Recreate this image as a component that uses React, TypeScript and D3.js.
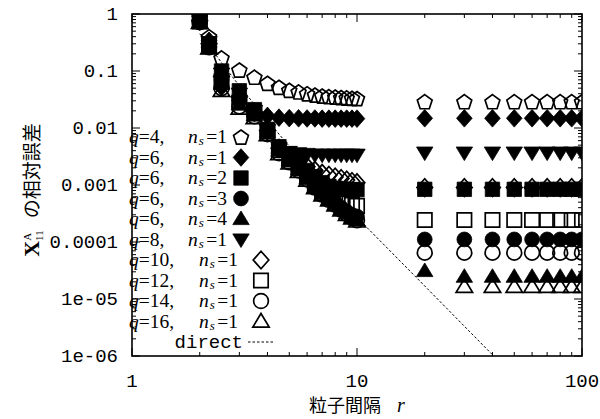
import React from 'react';
import * as d3 from 'd3';

// distances r
const R_VALUES = [2, 2.2, 2.5, 3, 3.5, 4, 4.5, 5, 5.5, 6, 6.5, 7, 7.5, 8, 8.5, 9, 9.5, 10, 20, 30, 40, 50, 60, 70, 80, 90, 100];

const Q4_NS1 = [0.85, 0.4, 0.17, 0.104, 0.078, 0.061, 0.052, 0.046, 0.043, 0.040, 0.038, 0.0365, 0.0355, 0.035, 0.0342, 0.0337, 0.0333, 0.033, 0.029, 0.029, 0.029, 0.029, 0.029, 0.029, 0.029, 0.029, 0.029];
const Q6_NS1 = [0.8, 0.34, 0.052, 0.031, 0.019, 0.0163, 0.0152, 0.0149, 0.0148, 0.0147, 0.0147, 0.0146, 0.0146, 0.0146, 0.0146, 0.0146, 0.0146, 0.0146, 0.0148, 0.0148, 0.0148, 0.0148, 0.0148, 0.0148, 0.0148, 0.0148, 0.0148];
const Q6_NS2 = [0.75, 0.3, 0.1, 0.045, 0.021, 0.0095, 0.0047, 0.0035, 0.0025, 0.0018, 0.0014, 0.0011, 0.00095, 0.00088, 0.00085, 0.00084, 0.00083, 0.00083, 0.00084, 0.00084, 0.00084, 0.00084, 0.00084, 0.00084, 0.00084, 0.00084, 0.00084];
const Q6_NS3 = [0.72, 0.27, 0.07, 0.03, 0.018, 0.0088, 0.0042, 0.0029, 0.002, 0.0014, 0.00098, 0.00075, 0.0006, 0.00049, 0.0004, 0.00034, 0.0003, 0.00028, 0.000111, 0.000111, 0.000111, 0.000111, 0.000111, 0.000111, 0.000111, 0.000111, 0.000111];
const Q6_NS4 = [0.7, 0.25, 0.06, 0.026, 0.017, 0.0085, 0.004, 0.0027, 0.0019, 0.0013, 0.00092, 0.0007, 0.00056, 0.00046, 0.00038, 0.00032, 0.00027, 0.00024, 3.1e-5, 2.46e-5, 2.46e-5, 2.46e-5, 2.46e-5, 2.46e-5, 2.46e-5, 2.46e-5, 2.46e-5];
const Q8_NS1 = [0.78, 0.32, 0.09, 0.04, 0.02, 0.0092, 0.0045, 0.0038, 0.0036, 0.0035, 0.0034, 0.0034, 0.0034, 0.0034, 0.0034, 0.0034, 0.0034, 0.0034, 0.0037, 0.0037, 0.0037, 0.0037, 0.0037, 0.0037, 0.0037, 0.0037, 0.0037];
const Q10_NS1 = [0.76, 0.3, 0.08, 0.035, 0.019, 0.009, 0.0044, 0.0031, 0.0025, 0.0021, 0.0018, 0.0016, 0.00148, 0.00138, 0.0013, 0.00122, 0.00115, 0.0011, 0.0009, 0.0009, 0.0009, 0.0009, 0.0009, 0.0009, 0.0009, 0.0009, 0.0009];
const Q12_NS1 = [0.74, 0.28, 0.065, 0.028, 0.018, 0.0087, 0.0041, 0.0028, 0.002, 0.0014, 0.001, 0.00078, 0.00065, 0.00057, 0.0005, 0.00047, 0.00045, 0.00043, 0.000243, 0.000243, 0.000243, 0.000243, 0.000243, 0.000243, 0.000243, 0.000243, 0.000243];
const Q14_NS1 = [0.72, 0.26, 0.05, 0.024, 0.016, 0.0078, 0.0036, 0.0025, 0.0018, 0.00125, 0.0009, 0.00068, 0.00055, 0.00045, 0.00037, 0.00031, 0.00027, 0.00024, 6.5e-5, 6.5e-5, 6.5e-5, 6.5e-5, 6.5e-5, 6.5e-5, 6.5e-5, 6.5e-5, 6.5e-5];
const Q16_NS1 = [0.7, 0.25, 0.045, 0.022, 0.015, 0.0075, 0.0035, 0.0024, 0.0017, 0.0012, 0.00088, 0.00066, 0.00054, 0.00044, 0.00036, 0.0003, 0.00026, 0.00023, null, 1.64e-5, 1.64e-5, 1.64e-5, 1.64e-5, 1.64e-5, 1.64e-5, 1.64e-5, 1.64e-5];
const DIRECT = [0.45, 0.28, 0.14, 0.055, 0.026, 0.0135, 0.0078, 0.0048, 0.0031, 0.0021, 0.0015, 0.00108, 0.00081, 0.00063, 0.0005, 0.0004, 0.00033, 0.00027, 1.69e-5, 3.33e-6, 1.05e-6, 4.3e-7, 2.1e-7, 1.1e-7, 6.6e-8, 4.1e-8, 2.7e-8];

const LEGEND_Q = ['4', '6', '6', '6', '6', '8', '10', '12', '14', '16'];
const LEGEND_NS = ['1', '1', '2', '3', '4', '1', '1', '1', '1', '1'];
const SHAPES = ['pentagon', 'diamond', 'square', 'circle', 'triUp', 'triDown', 'diamond', 'square', 'circle', 'triUp'];
const FILLED = [false, true, true, true, true, true, false, false, false, false];
const SERIES = [Q4_NS1, Q6_NS1, Q6_NS2, Q6_NS3, Q6_NS4, Q8_NS1, Q10_NS1, Q12_NS1, Q14_NS1, Q16_NS1];

const X_TICKS = [1, 10, 100];
const X_TICK_LABELS = ['1', '10', '100'];
const Y_TICKS = [1, 0.1, 0.01, 0.001, 0.0001, 1e-5, 1e-6];
const Y_TICK_LABELS = ['1', '0.1', '0.01', '0.001', '0.0001', '1e-05', '1e-06'];

const L = 132, R = 582, T = 14, B = 356;

function markerPath(shape: string): string {
  switch (shape) {
    case 'square': return `M-7.2,-7.2H7.2V7.2H-7.2Z`;
    case 'diamond': return `M0,-8.8L7.8,0L0,8.8L-7.8,0Z`;
    case 'triUp': return `M0,-8L8.2,5.6L-8.2,5.6Z`;
    case 'triDown': return `M0,8L8.2,-5.6L-8.2,-5.6Z`;
    case 'pentagon': {
      const pts = d3.range(5).map(i => {
        const a = -Math.PI / 2 + i * 2 * Math.PI / 5;
        return [7.8 * Math.cos(a), 7.8 * Math.sin(a) + 0.8];
      });
      return 'M' + pts.map(p => p[0].toFixed(2) + ',' + p[1].toFixed(2)).join('L') + 'Z';
    }
    default: return '';
  }
}

function Marker({ shape, filled, x, y }: { shape: string; filled: boolean; x: number; y: number }) {
  const fill = filled ? '#000' : 'none';
  const sw = filled ? 0.8 : 1.7;
  if (shape === 'circle') {
    return <circle cx={x} cy={y} r={7.4} fill={fill} stroke="#000" strokeWidth={sw} />;
  }
  return <path d={markerPath(shape)} transform={`translate(${x},${y})`} fill={fill} stroke="#000" strokeWidth={sw} strokeLinejoin="miter" />;
}

export default function App() {
  const x = d3.scaleLog().domain([1, 100]).range([L, R]);
  const y = d3.scaleLog().domain([1e-6, 1]).range([B, T]);

  const xMinor: number[] = [];
  [1, 10].forEach(d => { for (let k = 2; k <= 9; k++) xMinor.push(d * k); });
  const yMinor: number[] = [];
  [1e-6, 1e-5, 1e-4, 1e-3, 1e-2, 0.1].forEach(d => { for (let k = 2; k <= 9; k++) yMinor.push(d * k); });

  const directLine = d3.line<number>()
    .x((_, i) => x(R_VALUES[i]))
    .y(d => y(d));

  const legendY = d3.range(11).map(i => 137 + i * 20.5);
  const mono = "'Liberation Mono', 'DejaVu Sans Mono', monospace";
  const serif = "'Liberation Serif', 'DejaVu Serif', serif";

  return (
    <svg width={600} height={419} style={{ position: 'absolute', left: 0, top: 0, background: '#fff' }}>
      <rect x={0} y={0} width={600} height={419} fill="#fff" />
      <defs>
        <clipPath id="plotclip">
          <rect x={L} y={T} width={R - L} height={B - T} />
        </clipPath>
      </defs>

      {/* ticks */}
      <g stroke="#000" strokeWidth={1}>
        {X_TICKS.map(t => (
          <g key={'xt' + t}>
            <line x1={x(t)} x2={x(t)} y1={B} y2={B - 8} />
            <line x1={x(t)} x2={x(t)} y1={T} y2={T + 8} />
          </g>
        ))}
        {xMinor.map(t => (
          <g key={'xm' + t}>
            <line x1={x(t)} x2={x(t)} y1={B} y2={B - 4} />
            <line x1={x(t)} x2={x(t)} y1={T} y2={T + 4} />
          </g>
        ))}
        {Y_TICKS.map(t => (
          <g key={'yt' + t}>
            <line x1={L} x2={L + 8} y1={y(t)} y2={y(t)} />
            <line x1={R} x2={R - 8} y1={y(t)} y2={y(t)} />
          </g>
        ))}
        {yMinor.map(t => (
          <g key={'ym' + t}>
            <line x1={L} x2={L + 4} y1={y(t)} y2={y(t)} />
            <line x1={R} x2={R - 4} y1={y(t)} y2={y(t)} />
          </g>
        ))}
      </g>

      {/* tick labels */}
      <g fontFamily={mono} fontSize={19} fill="#000">
        {Y_TICKS.map((t, i) => (
          <text key={'yl' + i} x={118} y={y(t) + 6} textAnchor="end">{Y_TICK_LABELS[i]}</text>
        ))}
        {X_TICKS.map((t, i) => (
          <text key={'xl' + i} x={x(t)} y={387} textAnchor="middle">{X_TICK_LABELS[i]}</text>
        ))}
      </g>

      {/* data markers */}
      <g clipPath="url(#plotclip)">
        {SERIES.map((vals, si) => (
          <g key={'s' + si}>
            {vals.map((v, i) => v == null ? null : (
              <Marker key={i} shape={SHAPES[si]} filled={FILLED[si]} x={x(R_VALUES[i])} y={y(v)} />
            ))}
          </g>
        ))}
        <path d={directLine(DIRECT) || ''} fill="none" stroke="#000" strokeWidth={1} strokeDasharray="2.5,2" />
      </g>

      {/* legend */}
      <g fill="#000">
        {LEGEND_Q.map((q, i) => {
          const two = q.length > 1;
          const ly = legendY[i];
          const symX = two ? 261 : 241;
          const nX = two ? 199 : 188;
          return (
            <g key={'lg' + i}>
              <text x={129} y={ly + 6} fontFamily={serif} fontSize={19.5}>
                <tspan fontStyle="italic">q</tspan>={q},
              </text>
              <text x={nX} y={ly + 6} fontFamily={serif} fontSize={19.5}>
                <tspan fontStyle="italic">n</tspan>
                <tspan fontStyle="italic" fontSize={13} dx={1} dy={2}>s</tspan>
                <tspan dx={2.5} dy={-2}>={LEGEND_NS[i]}</tspan>
              </text>
              <Marker shape={SHAPES[i]} filled={FILLED[i]} x={symX} y={ly} />
            </g>
          );
        })}
        <text x={243} y={legendY[10] + 6} fontFamily={mono} fontSize={19} textAnchor="end">direct</text>
        <line x1={248} x2={273} y1={legendY[10]} y2={legendY[10]} stroke="#000" strokeWidth={1} strokeDasharray="2.5,2" />
      </g>

      {/* frame */}
      <rect x={L} y={T} width={R - L} height={B - T} fill="none" stroke="#000" strokeWidth={1.6} />

      {/* axis titles */}
      <text transform="translate(39,190) rotate(-90)" textAnchor="middle" fill="#000">
        <tspan fontFamily={serif} fontSize={22} fontWeight="bold">X</tspan>
        <tspan fontFamily={serif} fontSize={11} dy={-8}>A</tspan>
        <tspan fontFamily={serif} fontSize={11} dx={-8} dy={12}>11</tspan>
        <tspan fontFamily="'Noto Sans CJK JP', sans-serif" fontSize={19} dx={12} dy={-4}>の相対誤差</tspan>
      </text>
      <text x={357} y={412} textAnchor="middle" fill="#000">
        <tspan fontFamily="'Noto Sans CJK JP', sans-serif" fontSize={18}>粒子間隔</tspan>
        <tspan fontFamily={serif} fontStyle="italic" fontSize={20} dx={16}>r</tspan>
      </text>
    </svg>
  );
}
